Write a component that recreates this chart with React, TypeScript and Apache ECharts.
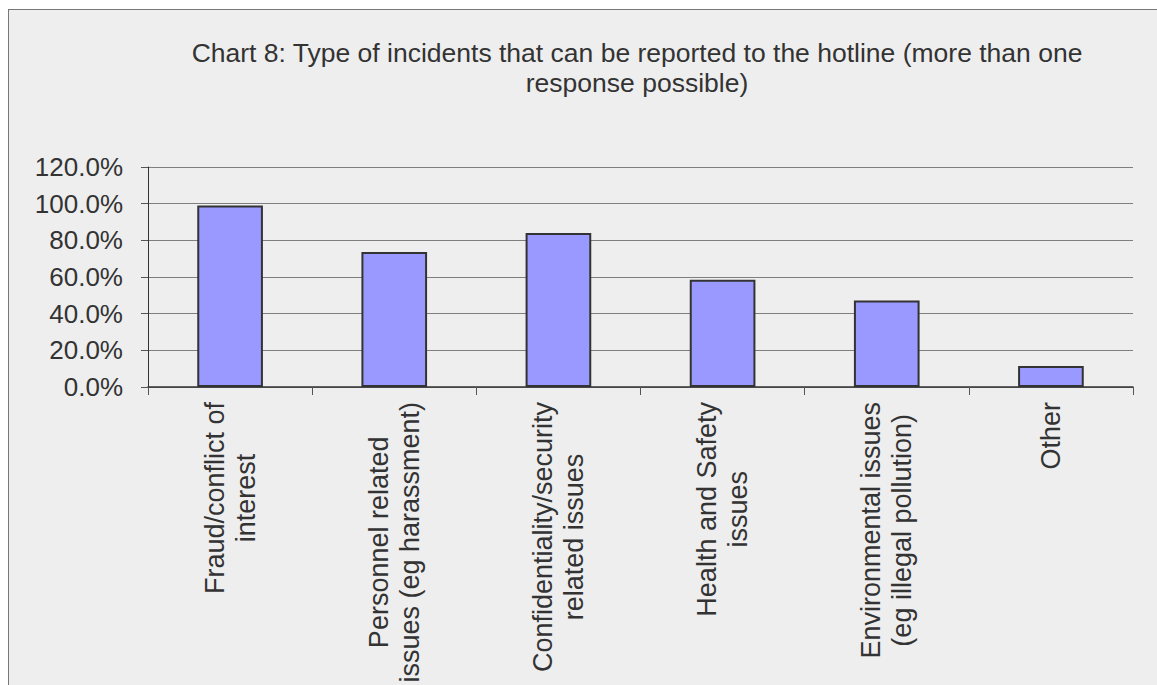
import React, { useEffect, useRef } from "react";
import * as echarts from "echarts";

// Incident types (line breaks split each label over two rows)
const categories: string[] = [
  "Fraud/conflict of\ninterest",
  "Personnel related\nissues (eg harassment)",
  "Confidentiality/security\nrelated issues",
  "Health and Safety\nissues",
  "Environmental issues\n(eg illegal pollution)",
  "Other",
];

// Share of respondents, in percent
const shares: number[] = [99.0, 73.6, 84.0, 58.5, 47.2, 11.5];

// Value axis range and step
const yMin = 0;
const yMax = 120;
const yStep = 20;

const titleText =
  "Chart 8: Type of incidents that can be reported to the hotline (more than one\nresponse possible)";

const FONT = "'Liberation Sans', Arial, Helvetica, sans-serif";
const INK = "#333333";

export default function App() {
  const ref = useRef<HTMLDivElement | null>(null);

  useEffect(() => {
    if (!ref.current) return;
    const chart = echarts.init(ref.current, undefined, { renderer: "svg" });
    chart.setOption({
      animation: false,
      backgroundColor: "#eeeeee",
      textStyle: { fontFamily: FONT },
      title: {
        text: titleText,
        left: 623,
        top: 23,
        textAlign: "center",
        textStyle: {
          fontFamily: FONT,
          fontSize: 26.5,
          fontWeight: "normal",
          color: INK,
          lineHeight: 30,
        },
      },
      grid: { left: 139, top: 157, width: 985, height: 220, containLabel: false },
      xAxis: {
        type: "category",
        data: categories,
        boundaryGap: true,
        axisLine: { show: true, lineStyle: { color: INK, width: 1.5 } },
        axisTick: { show: true, length: 8, lineStyle: { color: "#555" }, alignWithLabel: false },
        axisLabel: {
          rotate: 90,
          margin: 15,
          interval: 0,
          formatter: (v: string) =>
            v
              .split("\n")
              .map((line) => `{c|${line}}`)
              .join("\n"),
          rich: {
            c: {
              align: "center",
              fontFamily: FONT,
              fontSize: 27,
              lineHeight: 31,
              color: INK,
            },
          },
        },
        splitLine: { show: false },
      },
      yAxis: {
        type: "value",
        min: yMin,
        max: yMax,
        interval: yStep,
        axisLine: { show: true, lineStyle: { color: INK, width: 1 } },
        axisTick: { show: true, length: 7, lineStyle: { color: "#555" } },
        axisLabel: {
          margin: 25,
          fontFamily: FONT,
          fontSize: 26,
          color: INK,
          formatter: (v: number) => v.toFixed(1) + "%",
        },
        splitLine: { show: true, lineStyle: { color: "#7f7f7f", width: 1 } },
      },
      series: [
        {
          type: "bar",
          data: shares,
          barWidth: "40%",
          itemStyle: { color: "#9999ff", borderColor: "#333333", borderWidth: 2 },
        },
      ],
    });
    return () => chart.dispose();
  }, []);

  return (
    <div
      style={{
        position: "fixed",
        left: 8,
        top: 9,
        width: 1149,
        height: 676,
        borderTop: "1px solid #777",
        borderLeft: "1px solid #777",
        background: "#eeeeee",
      }}
    >
      <div ref={ref} style={{ width: 1149, height: 676 }} />
    </div>
  );
}
